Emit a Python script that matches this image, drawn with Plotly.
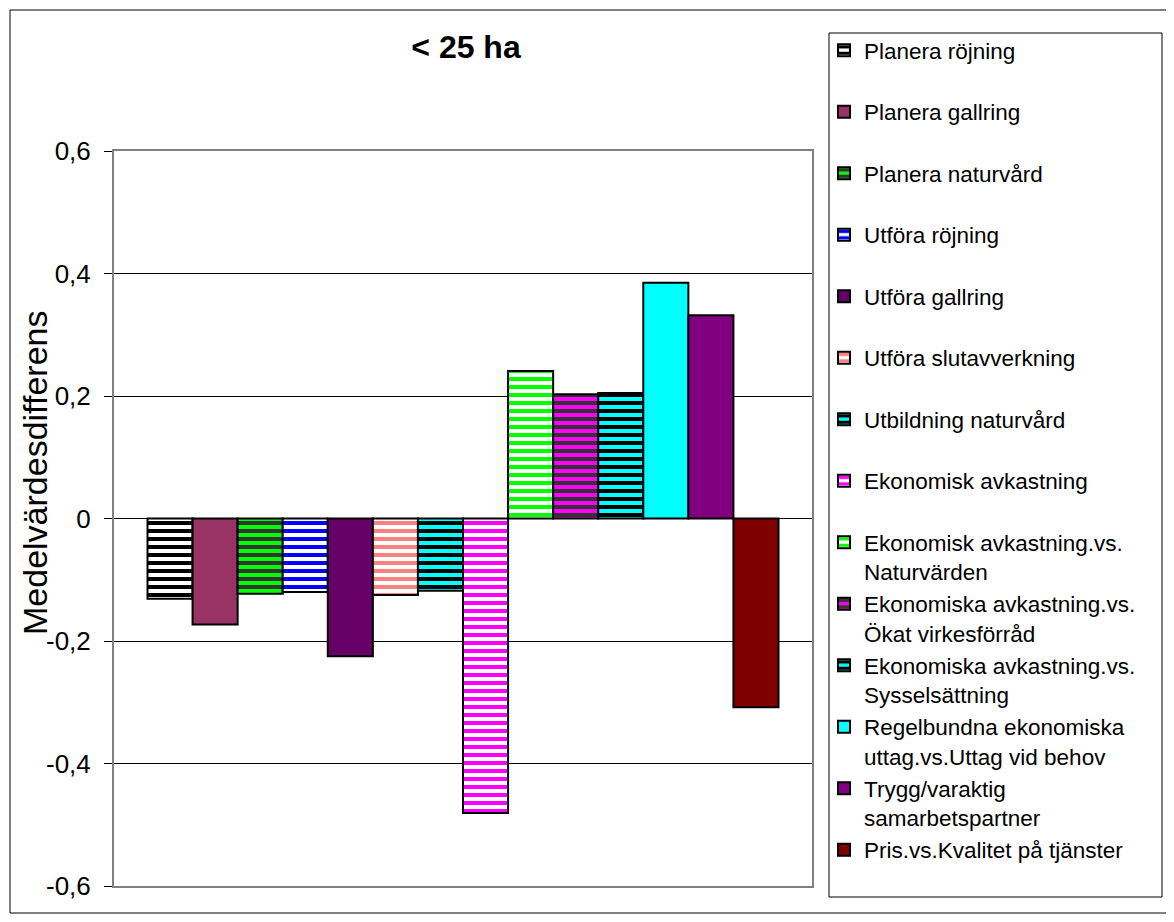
import plotly.graph_objects as go

# ---- data ----
category = ["< 25 ha"]
series_names = [
    "Planera röjning",
    "Planera gallring",
    "Planera naturvård",
    "Utföra röjning",
    "Utföra gallring",
    "Utföra slutavverkning",
    "Utbildning naturvård",
    "Ekonomisk avkastning",
    "Ekonomisk avkastning.vs.<br>Naturvärden",
    "Ekonomiska avkastning.vs.<br>Ökat virkesförråd",
    "Ekonomiska avkastning.vs.<br>Sysselsättning",
    "Regelbundna ekonomiska<br>uttag.vs.Uttag vid behov",
    "Trygg/varaktig<br>samarbetspartner",
    "Pris.vs.Kvalitet på tjänster",
]
values = [-0.131, -0.173, -0.123, -0.120, -0.225, -0.125, -0.118,
          -0.481, 0.241, 0.203, 0.205, 0.385, 0.332, -0.308]
y_tickvals = [-0.6, -0.4, -0.2, 0, 0.2, 0.4, 0.6]
y_ticktext = ["-0,6", "-0,4", "-0,2", "0", "0,2", "0,4", "0,6"]
y_title = "Medelvärdesdifferens"
chart_title = "< 25 ha"

# ---- styles: (background colour, stripe colour or None) ----
styles = [
    ("#FFFFFF", "#000000"),
    ("#993366", None),
    ("#00FF00", "#333333"),
    ("#FFFFFF", "#0000FF"),
    ("#660066", None),
    ("#FFFFFF", "#FF8080"),
    ("#00FFFF", "#000000"),
    ("#FFFFFF", "#FF00FF"),
    ("#FFFFFF", "#00FF00"),
    ("#FF00FF", "#333333"),
    ("#00FFFF", "#000000"),
    ("#00FFFF", None),
    ("#800080", None),
    ("#800000", None),
]

FONT = "Liberation Sans, Arial, sans-serif"
OFF = 8  # page body margin
W, H = 1174 - OFF, 922 - OFF
# plot area in page px
PL, PR, PT, PB = 114, 812, 151, 886
L, R, T, B = PL - OFF, PR - OFF, PT - OFF, PB - OFF

fig = go.Figure()
for name, val, (bg, fg) in zip(series_names, values, styles):
    label = name if "<br>" in name else name + "<br>&nbsp;"
    marker = dict(color=bg, line=dict(color="#000000", width=2))
    if fg is not None:
        marker["pattern"] = dict(shape="-", size=8, solidity=0.5,
                                 fgcolor=fg, bgcolor=bg, fillmode="replace")
    fig.add_trace(go.Bar(x=category, y=[val], name=label, marker=marker))


def px_x(p):  # page px -> paper x
    return (p - OFF - L) / (R - L)


def px_y(p):  # page px -> paper y
    return (B - (p - OFF)) / (B - T)


shapes = [
    # legend frame
    dict(type="rect", xref="paper", yref="paper",
         x0=px_x(829), x1=px_x(1162), y0=px_y(897), y1=px_y(33),
         line=dict(color="#000000", width=1), fillcolor="rgba(0,0,0,0)", layer="below"),
    # outer chart frame
    dict(type="rect", xref="paper", yref="paper",
         x0=px_x(10), x1=px_x(1172), y0=px_y(913), y1=px_y(10),
         line=dict(color="#000000", width=1), fillcolor="rgba(0,0,0,0)", layer="below"),
]

annotations = [
    dict(text=y_title, textangle=-90, xref="paper", yref="paper",
         x=px_x(35), y=px_y(473), xanchor="center", yanchor="middle",
         showarrow=False, font=dict(size=34, family=FONT, color="#000000")),
]

fig.update_layout(
    width=W, height=H,
    margin=dict(l=L, r=W - R, t=T, b=H - B, pad=0),
    paper_bgcolor="white", plot_bgcolor="white",
    barmode="group", bargap=0.096, bargroupgap=0,
    font=dict(family=FONT, color="#000000"),
    title=dict(text="<b>" + chart_title.replace("<", "&lt;") + "</b>",
               x=px_x(466), xref="paper", xanchor="center",
               y=1 - (47 - OFF) / H, yref="container", yanchor="middle",
               font=dict(size=32, family=FONT, color="#000000")),
    showlegend=True,
    legend=dict(x=px_x(824), xanchor="left", y=px_y(29), yanchor="top",
                bgcolor="rgba(0,0,0,0)", borderwidth=0, maxheight=880,
                font=dict(size=22.5, family=FONT, color="#000000"),
                valign="top", traceorder="normal", itemclick=False),
    shapes=shapes,
    annotations=annotations,
)
fig.update_xaxes(type="category", range=[-0.5, 0.5], showticklabels=False,
                 showgrid=False, showline=True, mirror=True,
                 linecolor="#808080", linewidth=2, ticks="", zeroline=False)
fig.update_yaxes(range=[-0.6, 0.6], tickvals=y_tickvals, ticktext=y_ticktext,
                 showgrid=True, gridcolor="#000000", gridwidth=1,
                 zeroline=True, zerolinecolor="#000000", zerolinewidth=1,
                 showline=True, mirror=True, linecolor="#808080", linewidth=2,
                 ticks="outside", ticklen=8, tickcolor="#000000",
                 ticklabelstandoff=8,
                 tickfont=dict(size=26, family=FONT, color="#000000"))

fig.write_html("out.html")
